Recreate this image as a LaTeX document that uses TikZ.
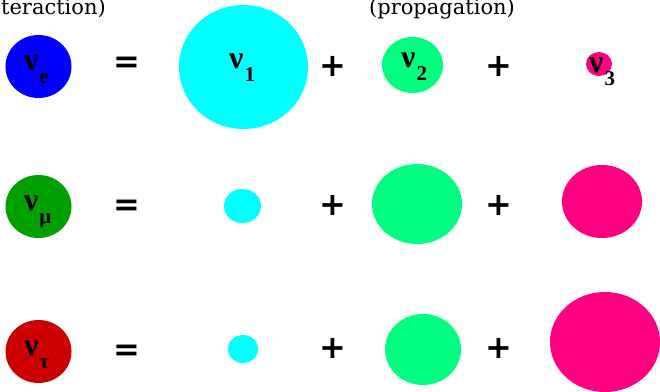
\documentclass[tikz,border=0pt]{standalone}
\usepackage{fontspec}
\setmainfont{Liberation Serif}
\newfontfamily\captfont{DejaVu Serif}
\newfontfamily\signfont{DejaVu Sans}
\usetikzlibrary{positioning}
\usetikzlibrary{shapes.geometric}
\definecolor{nublue}{HTML}{0000FF}
\definecolor{nugreen}{HTML}{00A000}
\definecolor{nured}{HTML}{CC0000}
\definecolor{masscyan}{HTML}{00FFFF}
\definecolor{massgreen}{HTML}{00FF80}
\definecolor{masspink}{HTML}{FF0080}
\newcommand{\nulabel}[1]{{\fontsize{32}{32}\selectfont\bfseries ν}\kern1pt\raisebox{-13pt}{\fontsize{21}{21}\selectfont\bfseries #1}}

\begin{document}
\begin{tikzpicture}[x=1pt,y=-1pt]
                % Stili per gli stati e i segni
                \tikzset{
                    state blob/.style={
                        ellipse,
                        draw=none,
                        inner sep=0pt
                    },
                    nu label/.style={
                        anchor=base west,
                        inner sep=0pt
                    },
                    op sign/.style={
                        inner sep=0pt,
                        font=\signfont\bfseries\fontsize{32}{32}\selectfont
                    },
                    caption text/.style={
                        anchor=base,
                        inner sep=0pt,
                        font=\captfont\fontsize{21}{21}\selectfont
                    }
                }
                \useasboundingbox (0,0) rectangle (660,391);

                % Didascalie
                \node[caption text, anchor=base east] (capint) at (106,14) {teraction)};
                \node[caption text] (capprop) at (442,14) {(propagation)};

                % Riga nu_e
                \node[state blob, fill=nublue, minimum width=66pt, minimum height=63pt] (nue) at (38.5,66.5) {};
                \node[op sign] (eqe) at (126.5,65) {=};
                \node[state blob, fill=masscyan, minimum width=129pt, minimum height=124pt] (eone) at (243.5,67) {};
                \node[op sign] (pluseA) at (332.5,66) {+};
                \node[state blob, fill=massgreen, minimum width=61pt, minimum height=56pt] (etwo) at (412.5,65) {};
                \node[op sign] (pluseB) at (498.5,66) {+};
                \node[state blob, fill=masspink, minimum width=26pt, minimum height=24pt] (ethree) at (599,64) {};

                % Riga nu_mu
                \node[state blob, fill=nugreen, minimum width=66pt, minimum height=63pt] (num) at (38.5,206.5) {};
                \node[op sign] (eqm) at (126.5,208) {=};
                \node[state blob, fill=masscyan, minimum width=37pt, minimum height=34pt] (mone) at (242.5,206) {};
                \node[op sign] (plusmA) at (332.5,205) {+};
                \node[state blob, fill=massgreen, minimum width=90pt, minimum height=80pt] (mtwo) at (417,204) {};
                \node[op sign] (plusmB) at (498.5,205) {+};
                \node[state blob, fill=masspink, minimum width=80pt, minimum height=73pt] (mthree) at (602,201.5) {};

                % Riga nu_tau
                \node[state blob, fill=nured, minimum width=66pt, minimum height=63pt] (nut) at (38.5,351.5) {};
                \node[op sign] (eqt) at (126.5,353) {=};
                \node[state blob, fill=masscyan, minimum width=30pt, minimum height=28pt] (tone) at (243,349) {};
                \node[op sign] (plustA) at (332.5,348.5) {+};
                \node[state blob, fill=massgreen, minimum width=76pt, minimum height=71pt] (ttwo) at (423,349.5) {};
                \node[op sign] (plustB) at (498.5,348) {+};
                \node[state blob, fill=masspink, minimum width=110pt, minimum height=100pt] (tthree) at (605,342) {};

                % Etichette
                \node[nu label] (labe) at (24,70) {\nulabel{e}};
                \node[nu label] (labm) at (24,210) {\nulabel{μ}};
                \node[nu label] (labt) at (24,355) {\nulabel{τ}};
                \node[nu label] (labone) at (229,68) {\nulabel{1}};
                \node[nu label] (labtwo) at (401,67) {\nulabel{2}};
                \node[nu label] (labthree) at (589,72) {\nulabel{3}};
            \end{tikzpicture}
\end{document}
